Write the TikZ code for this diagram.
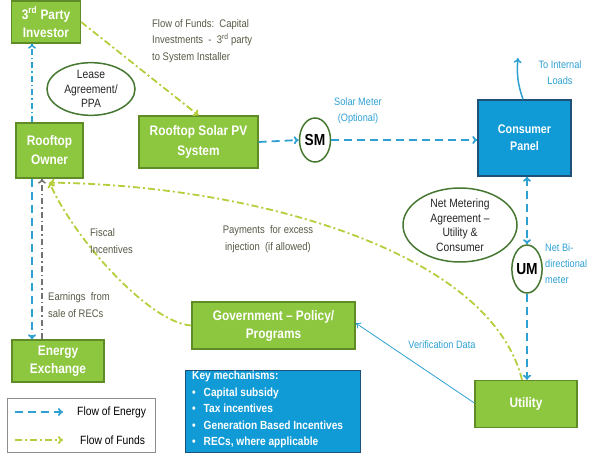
\documentclass[tikz,border=0pt]{standalone}
\usepackage{fontspec}
\setmainfont[FakeStretch=0.86]{Liberation Sans}
\usetikzlibrary{arrows.meta,shapes.geometric,calc}
\definecolor{gfill}{RGB}{141,198,63}
\definecolor{gdraw}{RGB}{96,140,40}
\definecolor{ebl}{RGB}{46,160,210}
\definecolor{fund}{RGB}{180,206,60}
\definecolor{pfill}{RGB}{16,154,214}
\definecolor{pdraw}{RGB}{30,80,120}
\definecolor{egreen}{RGB}{70,120,50}
\definecolor{txtg}{RGB}{88,88,70}
\tikzset{
  gbox/.style={draw=gdraw,fill=gfill,line width=1.3pt,text=white,font=\fontsize{13.8}{19}\selectfont\bfseries,align=center,inner sep=0pt},
  meter/.style={ellipse,draw=egreen,fill=white,line width=1.5pt,inner sep=0pt,font=\fontsize{16}{18}\selectfont\bfseries},
  agree/.style={ellipse,draw=egreen,fill=white,line width=1.5pt,inner sep=0pt,align=center,font=\fontsize{12}{14.5}\selectfont,text=black!85},
  energy/.style={draw=ebl,line width=1.8pt,dash pattern=on 8pt off 5pt,-{To[length=5pt,width=8pt]}},
  funds/.style={draw=fund,line width=1.8pt,dash pattern=on 7pt off 3pt on 2pt off 3pt,-{To[length=5pt,width=8pt]}},
  lbl/.style={font=\fontsize{11}{16.5}\selectfont,text=txtg,inner sep=0pt},
  blbl/.style={font=\fontsize{10.7}{16}\selectfont,text=ebl,inner sep=0pt},
}
\begin{document}
\begin{tikzpicture}[x=1pt,y=-1pt]
\useasboundingbox (0,0) rectangle (590,453);
% boxes
\node[gbox,minimum width=69,minimum height=42,font=\fontsize{13.8}{18}\selectfont\bfseries] (inv) at (46,22) {3\textsuperscript{rd} Party\\Investor};
\node[gbox,minimum width=67,minimum height=55] (owner) at (49.5,150.5) {Rooftop\\Owner};
\node[gbox,minimum width=92,minimum height=42,font=\fontsize{13.8}{18}\selectfont\bfseries] (exch) at (58,361) {Energy\\Exchange};
\node[gbox,minimum width=119,minimum height=52,font=\fontsize{13.8}{20}\selectfont\bfseries] (pv) at (198.5,142) {Rooftop Solar PV\\System};
\node[gbox,minimum width=163,minimum height=47,font=\fontsize{13.8}{18}\selectfont\bfseries] (gov) at (273.5,325.5) {Government -- Policy/\\Programs};
\node[gbox,minimum width=102,minimum height=47] (util) at (526,404) {Utility};
\node[draw=pdraw,fill=pfill,line width=1.3pt,minimum width=93,minimum height=76,inner sep=0pt,align=center,text=white,font=\fontsize{12.5}{17}\selectfont\bfseries] (panel) at (524.5,138) {Consumer\\Panel};
\node[draw=pdraw,fill=pfill,line width=1.3pt,minimum width=175,minimum height=82,inner sep=0pt,anchor=north west] (key) at (185,370) {};
\node[anchor=north west,inner sep=0pt,text=white,font=\fontsize{11.8}{16.5}\selectfont\bfseries,align=left] (keyt) at (192,371) {Key mechanisms:\\
\textbullet\hspace{8pt}Capital subsidy\\
\textbullet\hspace{8pt}Tax incentives\\
\textbullet\hspace{8pt}Generation Based Incentives\\
\textbullet\hspace{8pt}RECs, where applicable};
% meters and agreements
\node[meter,minimum width=31,minimum height=44] (sm) at (315,140) {SM};
\node[meter,minimum width=28,minimum height=48] (um) at (527,269) {UM};
\node[agree,minimum width=88,minimum height=52] (lease) at (91,89) {Lease\\Agreement/\\PPA};
\node[agree,minimum width=114,minimum height=70] (nma) at (460,225) {Net Metering\\Agreement --\\Utility \&\\Consumer};
% legend
\node[draw=black!45,line width=0.8pt,minimum width=148,minimum height=54,anchor=north west,inner sep=0pt] (leg) at (7,398) {};
\coordinate (e1) at (15,412); \coordinate (e2) at (63,412);
\coordinate (f1) at (15,440); \coordinate (f2) at (63,440);
\draw[energy] (e1) -- (e2);
\draw[funds] (f1) -- (f2);
\node[anchor=west,inner sep=0pt,font=\fontsize{12}{14}\selectfont] (le) at (77,412) {Flow of Energy};
\node[anchor=west,inner sep=0pt,font=\fontsize{12}{14}\selectfont] (lf) at (80,440) {Flow of Funds};
% energy connectors
\draw[energy] (pv.east) -- (sm.west);
\draw[energy] (sm.east) -- (sm.east -| panel.west);
\coordinate (loads) at (518,58);
\draw[ebl,line width=1.5pt,-{To[length=5pt,width=8pt]}] ([xshift=-1.5]panel.north) to[bend left=12] (loads);
\draw[energy,{To[length=5pt,width=8pt]}-{To[length=5pt,width=8pt]}] (um.north |- panel.south) -- (um.north);
\draw[energy] (um.south) -- (um.south |- util.north);
\draw[energy] ([xshift=-17.5]owner.south) -- ([xshift=-26]exch.north);
\draw[draw=ebl,line width=1.5pt,dash pattern=on 6pt off 3pt on 1.5pt off 3pt,-{To[length=5pt,width=8pt]}] ([xshift=-17.5]owner.north) -- ([xshift=-14]inv.south);
\draw[draw=black!55,line width=1.5pt,dash pattern=on 6pt off 3pt on 1.5pt off 3pt,-{To[length=5pt,width=8pt]}] ([xshift=-16]exch.north) -- ([xshift=-7.5]owner.south);
\draw[ebl,line width=0.8pt,-{To[length=5pt,width=7pt]}] ([yshift=1]util.west) -- ([yshift=2.5]gov.east);
% funds connectors
\draw[funds] (inv.east) -- (pv.north);
\draw[funds] (gov.west) .. controls (150,323) and (75,240) .. ([yshift=-4]owner.south);
\draw[funds] ([xshift=-4]util.north) .. controls (490,250) and (250,185) .. ([yshift=-4]owner.south);
% labels
\node[lbl,anchor=north west,align=left] (t1) at (152,19) {Flow of Funds:\ \ Capital\\Investments\ \ -\ \ 3\textsuperscript{rd} party\\to System Installer};
\node[blbl,align=center] (t2) at (358,111) {Solar Meter\\(Optional)};
\node[blbl,align=center] (t3) at (560,73) {To Internal\\Loads};
\node[blbl,align=left,anchor=west] (t4) at (545,264) {Net Bi-\\directional\\meter};
\node[lbl,align=left,anchor=west] (t5) at (90,241) {Fiscal\\Incentives};
\node[lbl,align=center] (t6) at (268,239) {Payments\ \ for excess\\injection\ \ (if allowed)};
\node[lbl,align=left,anchor=west] (t7) at (48,305) {Earnings\ \ from\\sale of RECs};
\node[blbl] (t8) at (442,345) {Verification Data};
\end{tikzpicture}
\end{document}
